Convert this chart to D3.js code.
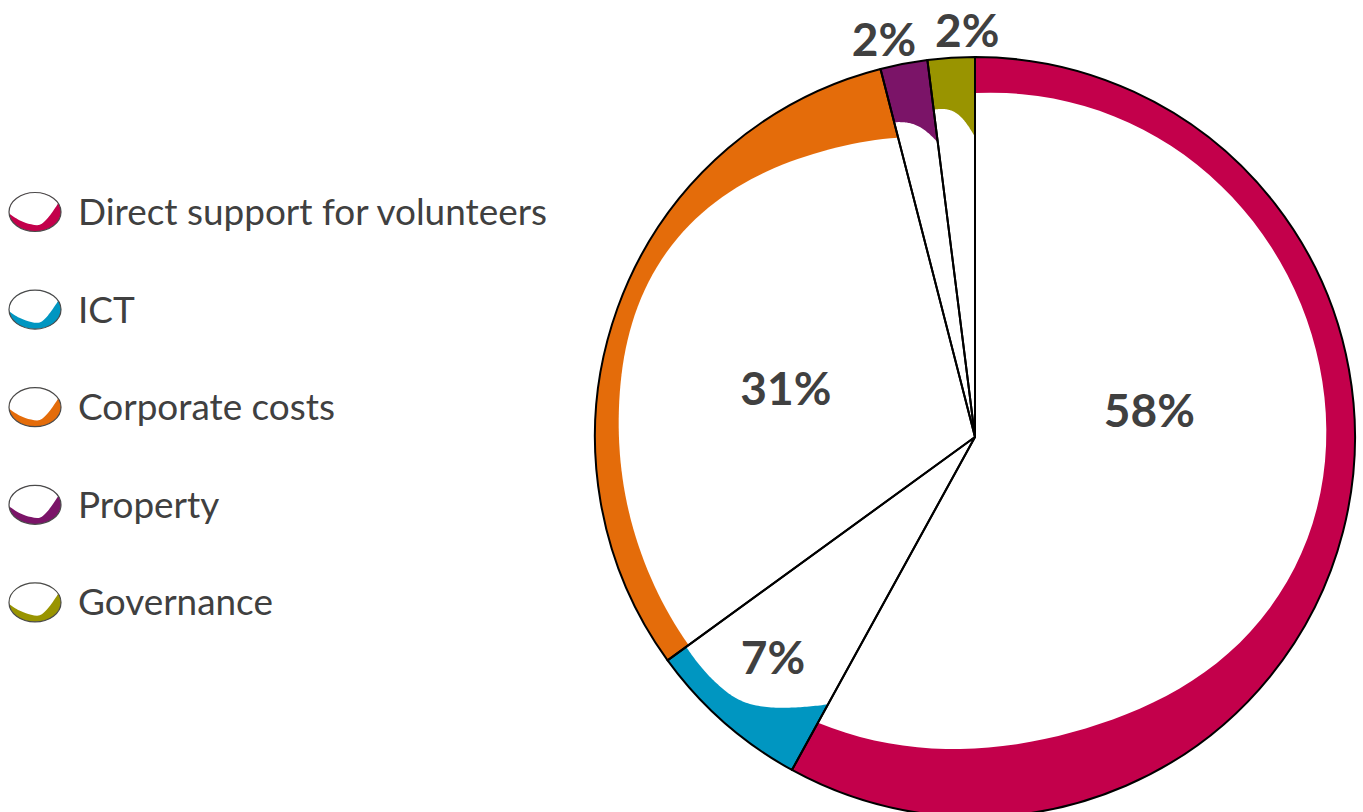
<!DOCTYPE html>
<html>
<head>
<meta charset="utf-8">
<script src="https://cdn.jsdelivr.net/npm/d3@7"></script>
<style>
  body { margin: 0; background: #fff; }
  svg { display: block; }
</style>
</head>
<body>
<div class="chart"></div>
<script>
// Data
var categories = ["Direct support for volunteers", "ICT", "Corporate costs", "Property", "Governance"];
var shares = [58, 7, 31, 2, 2];
var shareLabels = ["58%", "7%", "31%", "2%", "2%"];

// Colours per category
var colors = ["#C3004B", "#0096C1", "#E46C0A", "#7B1468", "#999400"];

// Thickness (px) of the coloured rim along each slice, from its start to its end
var rimProfiles = [
    [36, 29, 28, 28, 29, 45, 72, 70, 54],
    [75, 58, 40, 26, 23, 22, 23],
    [26, 27, 25.5, 23, 17, 20, 36, 57, 71],
    [55, 58, 66, 83],
    [50, 50, 58, 80]
];

// Label placement: [shift from slice middle in degrees, radius as fraction of R]
var labelPlace = [[-23, 0.464], [1.1, 0.787], [-5.3, 0.514], [-2.1, 1.074], [2.5, 1.071]];

var width = 1363, height = 812;
var cx = 975, cy = 437, R = 380;
var textColor = "#404040";

const svg = d3.select("div.chart")
    .append("svg")
    .attr("width", width)
    .attr("height", height);

var pie = d3.pie().sort(null).value(d => d);
var arcs = pie(shares);
var arc = d3.arc().innerRadius(0).outerRadius(R);

var g = svg.append("g")
    .attr("transform", `translate(${cx},${cy})`);

// Coloured wedges
g.append("g")
    .selectAll("path")
    .data(arcs)
    .join("path")
        .attr("d", arc)
        .attr("fill", (d, i) => colors[i]);

// White inner part of each wedge, leaving a rim of varying thickness
var line = d3.line();
g.append("g")
    .selectAll("path")
    .data(arcs)
    .join("path")
        .attr("fill", "#fff")
        .attr("d", function (d, i) {
            var rim = d3.interpolateBasis(rimProfiles[i]);
            var n = 80;
            var pts = [[0, 0]];
            for (var k = 0; k <= n; k++) {
                var f = k / n;
                var a = d.startAngle + f * (d.endAngle - d.startAngle);
                pts.push(d3.pointRadial(a, R - rim(f)));
            }
            return line(pts) + "Z";
        });

// Slice outlines
g.append("g")
    .selectAll("path")
    .data(arcs)
    .join("path")
        .attr("d", arc)
        .attr("fill", "none")
        .attr("stroke", "#000")
        .attr("stroke-width", 2)
        .attr("stroke-linejoin", "round");

// Percent labels
g.append("g")
    .selectAll("text")
    .data(arcs)
    .join("text")
        .attr("transform", function (d, i) {
            var mid = (d.startAngle + d.endAngle) / 2 + labelPlace[i][0] * Math.PI / 180;
            var p = d3.pointRadial(mid, R * labelPlace[i][1]);
            return `translate(${p[0]},${p[1]})`;
        })
        .attr("text-anchor", "middle")
        .attr("dy", "0.36em")
        .attr("fill", textColor)
        .style("font-family", "Lato, 'Open Sans', sans-serif")
        .style("font-weight", "bold")
        .style("font-size", "46px")
        .text((d, i) => shareLabels[i]);

// Legend
var legendX = 35, legendY = 212, legendStep = 97.6;
var iconRx = 26, iconRy = 19.5;
var defs = svg.append("defs");
defs.append("clipPath")
    .attr("id", "iconClip")
    .append("ellipse")
        .attr("rx", iconRx)
        .attr("ry", iconRy);

// Upper edge of the coloured crescent in the legend icon (unit ellipse space)
var crescent = [[-1.02, 0.06], [-0.6, 0.42], [-0.15, 0.63], [0.18, 0.66], [0.5, 0.3], [0.92, -0.5]];
var crescentLine = d3.line()
    .x(p => p[0] * iconRx)
    .y(p => p[1] * iconRy)
    .curve(d3.curveCatmullRom);

var legend = svg.append("g")
    .selectAll("g")
    .data(categories)
    .join("g")
        .attr("transform", (d, i) => `translate(${legendX},${legendY + i * legendStep})`);

var icon = legend.append("g").attr("clip-path", "url(#iconClip)");
icon.append("rect")
    .attr("x", -iconRx)
    .attr("y", -iconRy)
    .attr("width", iconRx * 2)
    .attr("height", iconRy * 2)
    .attr("fill", (d, i) => colors[i]);
icon.append("path")
    .attr("fill", "#fff")
    .attr("d", crescentLine(crescent) +
        `L${1.3 * iconRx},${-1.3 * iconRy}L${-1.3 * iconRx},${-1.3 * iconRy}Z`);
legend.append("ellipse")
    .attr("rx", iconRx)
    .attr("ry", iconRy)
    .attr("fill", "none")
    .attr("stroke", "#4a4a4a")
    .attr("stroke-width", 1.2);

var legendText = legend.append("text")
    .attr("x", 78 - legendX)
    .attr("y", 13)
    .attr("fill", textColor)
    .style("font-family", "Lato, 'Open Sans', sans-serif")
    .style("font-size", "32px")
    .text(d => d);

// Scale the legend font so the longest entry spans the same width as the original
var longest = d3.max(legendText.nodes(), n => n.getComputedTextLength());
legendText.style("font-size", (32 * 469 / longest) + "px");
</script>
</body>
</html>
